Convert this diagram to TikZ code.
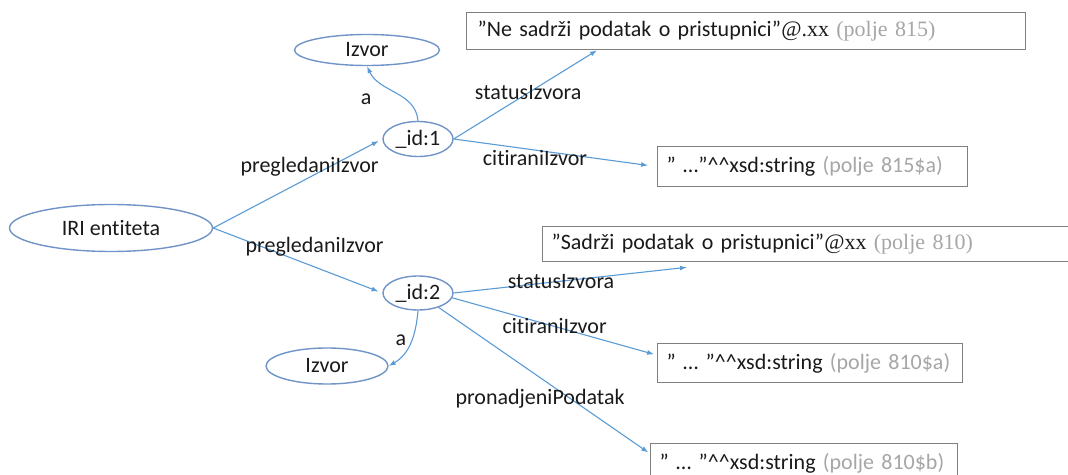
\documentclass[tikz,border=0pt]{standalone}
\usepackage{fontspec}
\setmainfont{Carlito}[Ligatures=NoCommon]
\newfontfamily\serifpart{Liberation Serif}
\usetikzlibrary{shapes.geometric, arrows.meta, calc}
\definecolor{cEdge}{HTML}{5B9BD5}
\definecolor{cNode}{HTML}{7094C8}
\definecolor{cBox}{HTML}{7F7F7F}
\definecolor{cText}{HTML}{1A1A1A}
\definecolor{cNote}{HTML}{A6A6A6}
\newcommand{\polje}[1]{\textcolor{cNote}{(polje #1)}}
\newcommand{\xsdstr}{\textasciicircum\textasciicircum xsd:string}
\tikzset{
  res/.style={
    ellipse, draw=cNode, line width=1.4pt, inner sep=0pt,
    minimum width=#1, text=cText, font=\fontsize{22}{26}\selectfont
  },
  lit/.style={
    rectangle, draw=cBox, line width=1.3pt, anchor=north west,
    inner xsep=9pt, inner ysep=0pt, align=left, text=cText,
    font=\fontsize{22}{26}\selectfont
  },
  rel/.style={draw=cEdge, line width=1.1pt, -{Latex[length=7pt, width=5pt]}},
  lbl/.style={inner sep=0pt, text=cText, font=\fontsize{22}{26}\selectfont},
}

\begin{document}
\begin{tikzpicture}[x=1pt, y=1pt]
  \useasboundingbox (0,0) rectangle (1068,474);

  % resources
  \node[res=203pt, minimum height=47pt] (iri)    at (111,246) {IRI entiteta};
  \node[res=145pt, minimum height=31pt] (izvorA) at (367,424) {Izvor};
  \node[res=70pt,  minimum height=35pt] (idA)    at (418,335) {\_id:1};
  \node[res=70pt,  minimum height=34pt] (idB)    at (418,181) {\_id:2};
  \node[res=122pt, minimum height=36pt] (izvorB) at (327,108) {Izvor};

  % literals
  \node[lit, text width=541pt, minimum height=37pt] (litA) at (466,462)
    {\hspace{2pt}”Ne sadrži podatak o pristupnici”{\serifpart @.xx} {\serifpart\polje{815}}};
  \node[lit, text width=292pt, minimum height=40pt] (litB) at (657,328)
    {” …”\xsdstr{} \polje{815\$a}};
  \node[lit, text width=542pt, minimum height=35pt] (litC) at (542,248)
    {”Sadrži podatak o pristupnici”{\serifpart @xx} {\serifpart\polje{810}}};
  \node[lit, text width=287pt, minimum height=39pt] (litD) at (657,131)
    {” … ”\xsdstr{} \polje{810\$a}};
  \node[lit, text width=289pt, minimum height=40pt] (litE) at (650,31)
    {” … ”\xsdstr{} \polje{810\$b}};

  \coordinate (sC) at ($(litC.south west)+(145,-5)$);

  % edges
  \draw[rel, shorten >=4pt] (iri.east) -- node[lbl, pos=0.57, above=0pt] {pregledaniIzvor} (idA.west);
  \draw[rel, shorten >=4pt] (iri.east) -- node[lbl, pos=0.6, above=10pt] {pregledaniIzvor} (idB.west);

  \draw[rel] (idA.north) to[out=95, in=-65]
    node[lbl, pos=0.5, xshift=-30pt, yshift=-7pt] {a} (izvorA.south);
  \draw[rel] (idA.east) -- node[lbl, pos=0.52] {statusIzvora} ($(litA.south west)+(131,0)$);
  \draw[rel, shorten >=9pt] (idA.east) -- node[lbl, pos=0.4, below=0pt] {citiraniIzvor} (litB.west);

  \draw[rel] (idB.south) to[out=-95, in=30]
    node[lbl, pos=0.45, left=5pt] {a} (izvorB.east);
  \draw[rel] (idB.east) -- node[lbl, pos=0.46] {statusIzvora} (sC);
  \draw[rel, shorten >=3pt] (idB.-8) -- node[lbl, pos=0.5] {citiraniIzvor} ($(litD.west)+(0,8)$);
  \draw[rel, shorten >=2pt] (idB.-35) -- node[lbl, pos=0.48, below=11pt] {pronadjeniPodatak} ($(litE.west)+(0,10)$);

\end{tikzpicture}
\end{document}
